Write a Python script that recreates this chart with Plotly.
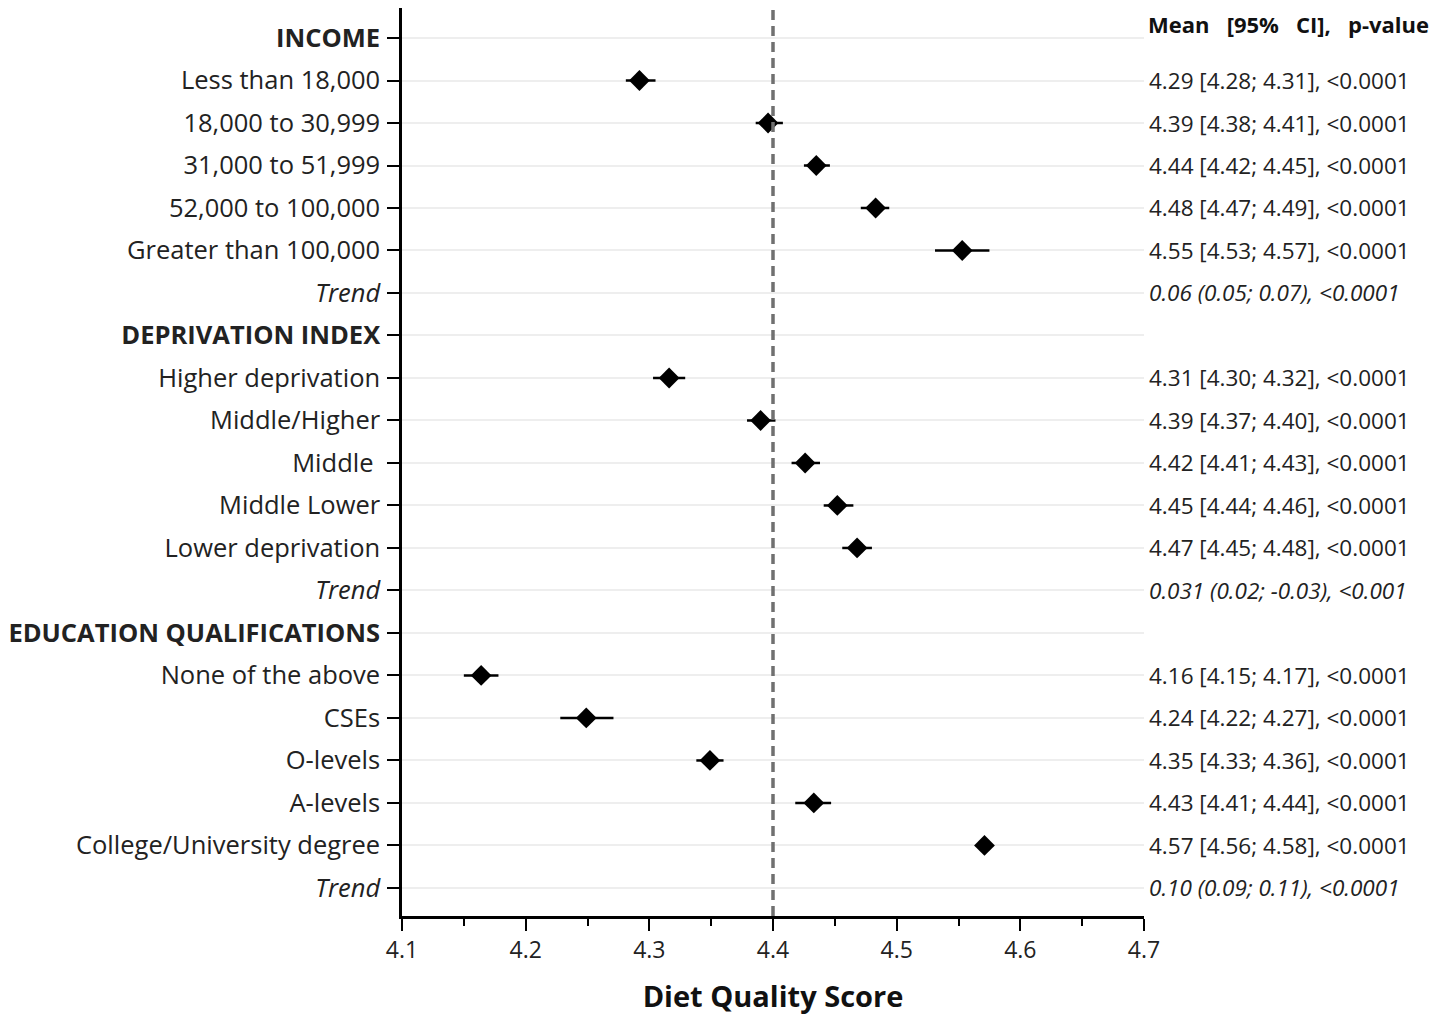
import plotly.graph_objects as go

# ---- data ----
row_labels = ["INCOME", "Less than 18,000", "18,000 to 30,999", "31,000 to 51,999",
              "52,000 to 100,000", "Greater than 100,000", "Trend",
              "DEPRIVATION INDEX", "Higher deprivation", "Middle/Higher", "Middle ",
              "Middle Lower", "Lower deprivation", "Trend",
              "EDUCATION QUALIFICATIONS", "None of the above", "CSEs", "O-levels",
              "A-levels", "College/University degree", "Trend"]
row_kind = ["head", "item", "item", "item", "item", "item", "trend",
            "head", "item", "item", "item", "item", "item", "trend",
            "head", "item", "item", "item", "item", "item", "trend"]

point_labels = ["Less than 18,000", "18,000 to 30,999", "31,000 to 51,999",
                "52,000 to 100,000", "Greater than 100,000",
                "Higher deprivation", "Middle/Higher", "Middle ", "Middle Lower",
                "Lower deprivation",
                "None of the above", "CSEs", "O-levels", "A-levels",
                "College/University degree"]
point_rows = [1, 2, 3, 4, 5, 8, 9, 10, 11, 12, 15, 16, 17, 18, 19]
means = [4.292, 4.396, 4.435, 4.483, 4.553,
         4.316, 4.390, 4.426, 4.452, 4.468,
         4.164, 4.249, 4.349, 4.433, 4.571]
ci_low = [4.281, 4.386, 4.425, 4.471, 4.531,
          4.303, 4.379, 4.415, 4.441, 4.456,
          4.150, 4.228, 4.338, 4.418, 4.565]
ci_high = [4.305, 4.408, 4.446, 4.494, 4.575,
           4.329, 4.402, 4.438, 4.465, 4.480,
           4.178, 4.271, 4.360, 4.447, 4.577]

right_text = ["", "4.29 [4.28; 4.31], <0.0001", "4.39 [4.38; 4.41], <0.0001",
              "4.44 [4.42; 4.45], <0.0001", "4.48 [4.47; 4.49], <0.0001",
              "4.55 [4.53; 4.57], <0.0001", "0.06 (0.05; 0.07), <0.0001",
              "", "4.31 [4.30; 4.32], <0.0001", "4.39 [4.37; 4.40], <0.0001",
              "4.42 [4.41; 4.43], <0.0001", "4.45 [4.44; 4.46], <0.0001",
              "4.47 [4.45; 4.48], <0.0001", "0.031 (0.02; -0.03), <0.001",
              "", "4.16 [4.15; 4.17], <0.0001", "4.24 [4.22; 4.27], <0.0001",
              "4.35 [4.33; 4.36], <0.0001", "4.43 [4.41; 4.44], <0.0001",
              "4.57 [4.56; 4.58], <0.0001", "0.10 (0.09; 0.11), <0.0001"]
header_text = "Mean\u00a0\u00a0 [95%\u00a0\u00a0 CI],\u00a0\u00a0 p-value"
reference_value = 4.4
x_ticks = [4.1, 4.2, 4.3, 4.4, 4.5, 4.6, 4.7]

FONT = "Open Sans"

def fmt(lbl, kind):
    if kind == "head":
        return "<b>" + lbl + "</b>"
    if kind == "trend":
        return "<i>" + lbl + "</i>"
    return lbl

ticktext = [fmt(l, k) for l, k in zip(row_labels, row_kind)]

fig = go.Figure()
fig.add_trace(go.Scatter(
    x=means, y=point_rows, mode="markers",
    marker=dict(symbol="diamond", size=16, color="black"),
    error_x=dict(type="data", symmetric=False,
                 array=[h - m for h, m in zip(ci_high, means)],
                 arrayminus=[m - l for m, l in zip(means, ci_low)],
                 color="black", thickness=2.5, width=0),
    text=point_labels, showlegend=False, hoverinfo="x+text"))

fig.add_shape(type="line", xref="x", yref="paper", x0=reference_value, x1=reference_value,
              y0=0, y1=1, line=dict(color="#707070", width=3.5, dash="10px,6px"), layer="above")

for i, (t, k) in enumerate(zip(right_text, row_kind)):
    if t:
        fig.add_annotation(xref="paper", yref="y", x=1.004, y=i, text=fmt(t, k),
                           showarrow=False, xanchor="left", yanchor="middle",
                           font=dict(family=FONT, size=22.5, color="#222222"))
fig.add_annotation(xref="paper", yref="paper", x=1.004, y=1.0, text="<b>" + header_text + "</b>",
                   showarrow=False, xanchor="left", yanchor="top", borderpad=0,
                   font=dict(family=FONT, size=22, color="#111111"))

fig.update_layout(
    width=1440, height=1007,
    margin=dict(l=390, r=304, t=0, b=99),
    paper_bgcolor="white", plot_bgcolor="white",
    font=dict(family=FONT, color="#222222"),
    xaxis=dict(range=[4.1, 4.7], tickvals=x_ticks, ticks="outside", ticklen=12,
               tickwidth=2, tickcolor="black", showline=True, linecolor="black",
               linewidth=2.5, showgrid=False, zeroline=False,
               tickfont=dict(family=FONT, size=23, color="#222222"),
               minor=dict(dtick=0.05, ticks="outside", ticklen=7, tickwidth=2,
                          tickcolor="black", showgrid=False),
               title=dict(text="<b>Diet Quality Score</b>", standoff=24,
                          font=dict(family=FONT, size=29, color="#111111"))),
    yaxis=dict(range=[20.66, -0.706], tickvals=list(range(len(row_labels))),
               ticktext=ticktext, ticks="outside", ticklen=12, tickwidth=2,
               tickcolor="black", showline=True, linecolor="black", linewidth=2.5,
               showgrid=True, gridcolor="#eeeeee", gridwidth=1.5, zeroline=False,
               ticklabelstandoff=2,
               tickfont=dict(family=FONT, size=25.5, color="#222222")),
)

fig.write_html("out.html")
